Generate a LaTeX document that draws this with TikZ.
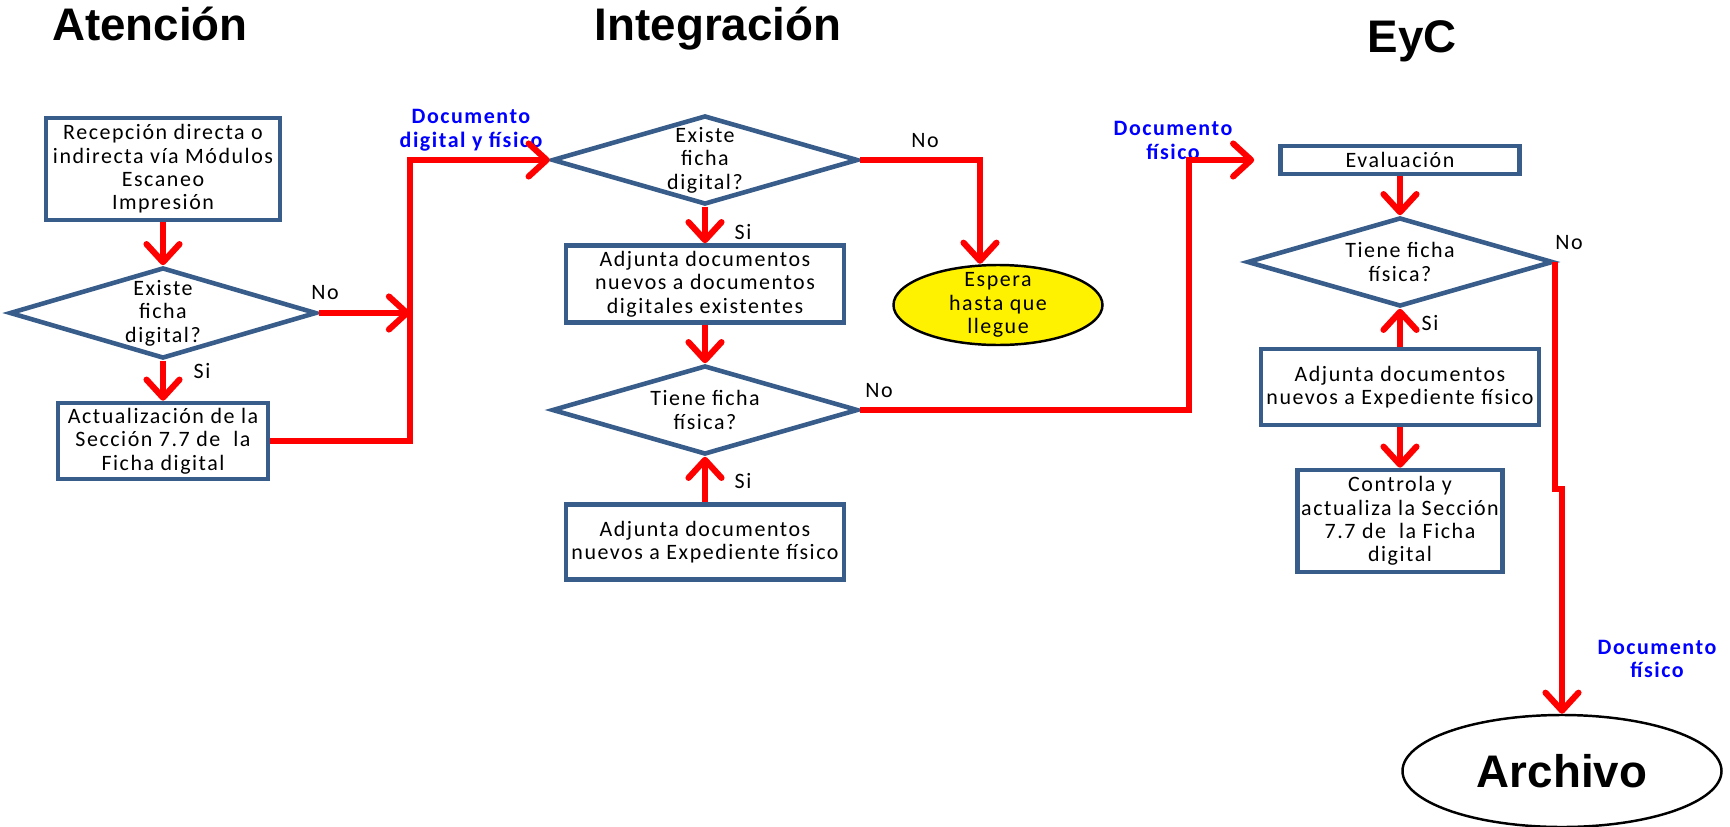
\documentclass[tikz,border=0pt]{standalone}
\usepackage{fontspec}
\setmainfont{Carlito}[LetterSpace=7]
\newfontfamily\titlefont{Liberation Sans}
\usetikzlibrary{shapes.geometric,arrows.meta}
\definecolor{boxblue}{RGB}{56,93,138}
\definecolor{flowred}{RGB}{255,0,0}
\definecolor{labelblue}{RGB}{0,0,255}
\newcommand{\boxfont}{\fontsize{12.5}{13.3}\selectfont}

\begin{document}
\begin{tikzpicture}[
	proc/.style={draw=boxblue,line width=2.6pt,fill=white,align=center,inner sep=1pt,font=\boxfont},
	decision/.style={diamond,draw=boxblue,line width=2.6pt,fill=white,align=center,inner sep=-6pt,shape aspect=3.4,minimum width=6.12cm,minimum height=1.78cm,font=\boxfont},
	wait/.style={ellipse,draw=black,line width=1.4pt,fill=yellow,align=center,inner sep=-9pt,minimum width=4.18cm,minimum height=1.6cm,font=\boxfont},
	archive/.style={ellipse,draw=black,line width=1.4pt,fill=white,minimum width=6.38cm,minimum height=2.24cm,font=\titlefont\bfseries\fontsize{26}{30}\selectfont},
	flow/.style={draw=flowred,line width=3.5pt,-{Straight Barb[length=0.36cm,width=0.66cm,round]}},
	answer/.style={font=\boxfont},
	doclabel/.style={text=labelblue,align=center,font=\bfseries\fontsize{12.5}{13.5}\selectfont},
	title/.style={anchor=base,font=\titlefont\bfseries\fontsize{26}{30}\selectfont}
]
	\useasboundingbox (0,0) rectangle (34.6,-16.54);

	% titles
	\node[title](t1) at (3.0,-0.81) {Atención};
	\node[title](t2) at (14.36,-0.81) {Integración};
	\node[title](t3) at (28.24,-1.05) {EyC};

	% Atencion
	\node[proc,minimum width=4.68cm,minimum height=2.04cm](recep) at (3.26,-3.38) {Recepción directa o\\indirecta vía Módulos\\Escaneo\\Impresión};
	\node[decision,minimum width=6.14cm,minimum height=1.82cm](d1) at (3.26,-6.26) {Existe\\ficha\\digital?};
	\node[proc,minimum width=4.2cm,minimum height=1.52cm](actual) at (3.26,-8.82) {Actualización de la\\Sección 7.7 de\ \ la\\Ficha digital};

	% Integracion
	\node[decision](d2) at (14.1,-3.2) {Existe\\ficha\\digital?};
	\node[proc,minimum width=5.56cm,minimum height=1.54cm](adjdig) at (14.1,-5.68) {Adjunta documentos\\nuevos a documentos\\digitales existentes};
	\node[decision](d3) at (14.1,-8.2) {Tiene ficha\\física?};
	\node[proc,minimum width=5.56cm,minimum height=1.5cm](adjexp) at (14.1,-10.84) {Adjunta documentos\\nuevos a Expediente físico};
	\node[wait](espera) at (19.96,-6.1) {Espera\\hasta que\\llegue};

	% EyC
	\node[proc,minimum width=4.78cm,minimum height=0.56cm,inner sep=0pt](eval) at (28,-3.2) {Evaluación};
	\node[decision](d4) at (28,-5.24) {Tiene ficha\\física?};
	\node[proc,minimum width=5.56cm,minimum height=1.52cm](adjexpb) at (28,-7.74) {Adjunta documentos\\nuevos a Expediente físico};
	\node[proc,minimum width=4.1cm,minimum height=2.04cm](control) at (28,-10.42) {Controla y\\actualiza la Sección\\7.7 de\ \ la Ficha\\digital};
	\node[archive](archivo) at (31.24,-15.42) {Archivo};

	% answers and labels
	\node[answer](no1) at (6.5,-5.86) {No};
	\node[answer](si1) at (4.04,-7.42) {Si};
	\node[answer](no2) at (18.5,-2.82) {No};
	\node[answer](si2) at (14.86,-4.64) {Si};
	\node[answer](no3) at (17.58,-7.82) {No};
	\node[answer](si3) at (14.86,-9.62) {Si};
	\node[answer](no4) at (31.38,-4.86) {No};
	\node[answer](si4) at (28.6,-6.46) {Si};
	\node[doclabel](doc1) at (9.42,-2.61) {Documento\\digital y físico};
	\node[doclabel](doc2) at (23.46,-2.81) {Documento\\físico};
	\node[doclabel](doc3) at (33.14,-13.18) {Documento\\físico};

	\coordinate (join) at (8.2,-6.26);
	\coordinate (turn) at (23.78,-3.2);
	\coordinate (jog) at (31.24,-9.78);

	\draw[flow] (recep)--(d1);
	\draw[flow] (d1)--(actual);
	\draw[flow] (d1.east)--(join);
	\draw[flow] (actual.east) -| (join |- d2.west)--(d2.west);
	\draw[flow] (d2)--(adjdig);
	\draw[flow] (adjdig)--(d3);
	\draw[flow] (adjexp)--(d3);
	\draw[flow] (d2.east) -| ([xshift=-0.36cm]espera.north);
	\draw[flow,shorten >=0.48cm] (d3.east) -| (turn)--(eval.west);
	\draw[flow] (eval)--(d4);
	\draw[flow] (adjexpb)--(d4);
	\draw[flow] (adjexpb)--(control);
	\draw[flow] (d4.east)--(d4.east |- jog)--(jog)--(archivo.north);
\end{tikzpicture}
\end{document}
